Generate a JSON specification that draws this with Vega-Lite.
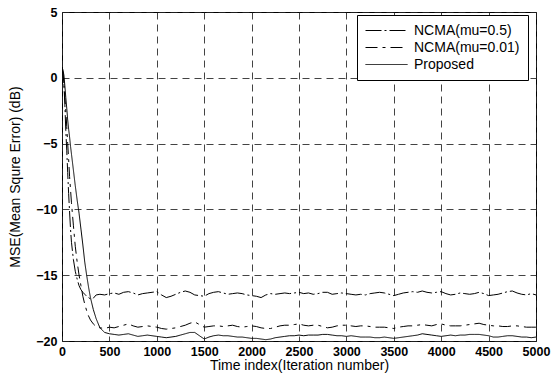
{
  "$schema": "https://vega.github.io/schema/vega-lite/v6.json",
  "width": 474,
  "height": 329,
  "autosize": {"type": "none"},
  "padding": {"left": 62, "top": 12, "right": 23, "bottom": 36},
  "background": "white",
  "config": {
    "view": {"stroke": "black", "strokeWidth": 1},
    "font": "Liberation Sans",
    "axis": {
      "grid": true,
      "gridColor": "#222",
      "gridDash": [7, 5],
      "gridWidth": 1,
      "gridOpacity": 0.85,
      "domain": false,
      "ticks": false,
      "labelFlush": false,
      "labelFont": "Liberation Sans",
      "labelFontSize": 12.5,
      "labelFontWeight": "bold",
      "labelColor": "black",
      "titleFont": "Liberation Sans",
      "titleFontSize": 14,
      "titleFontWeight": "normal",
      "titleColor": "black"
    }
  },
  "data": {
    "values": [
      {"t": 0, "a": 0.8, "b": 0.8, "c": 0.8},
      {"t": 10, "a": 0.4, "b": 0.3, "c": 0.6},
      {"t": 20, "a": -0.5, "b": -0.5, "c": 0.2},
      {"t": 30, "a": -2, "b": -1.5, "c": -0.6},
      {"t": 40, "a": -4, "b": -2.5, "c": -1.5},
      {"t": 50, "a": -5.5, "b": -3.7, "c": -2.3},
      {"t": 60, "a": -7.2, "b": -5, "c": -3.2},
      {"t": 70, "a": -8.8, "b": -6.2, "c": -3.9},
      {"t": 80, "a": -10.2, "b": -7.5, "c": -4.5},
      {"t": 90, "a": -11.5, "b": -8.5, "c": -5.2},
      {"t": 100, "a": -12.5, "b": -9.5, "c": -5.8},
      {"t": 120, "a": -13.8, "b": -11.2, "c": -7},
      {"t": 140, "a": -14.7, "b": -12.8, "c": -8.2},
      {"t": 160, "a": -15.3, "b": -14, "c": -9.3},
      {"t": 180, "a": -15.8, "b": -15, "c": -10.3},
      {"t": 200, "a": -16.1, "b": -15.8, "c": -11.5},
      {"t": 220, "a": -16.3, "b": -16.6, "c": -12.7},
      {"t": 240, "a": -16.45, "b": -17.2, "c": -14},
      {"t": 260, "a": -16.6, "b": -17.7, "c": -15},
      {"t": 280, "a": -16.7, "b": -18.1, "c": -15.9},
      {"t": 300, "a": -16.8, "b": -18.4, "c": -16.7},
      {"t": 330, "a": -16.75, "b": -18.7, "c": -17.6},
      {"t": 360, "a": -16.5, "b": -18.9, "c": -18.3},
      {"t": 400, "a": -16.45, "b": -19.0, "c": -19.0},
      {"t": 450, "a": -16.5, "b": -19.05, "c": -19.35},
      {"t": 500, "a": -16.4, "b": -18.95, "c": -19.45},
      {"t": 550, "a": -16.35, "b": -19.0, "c": -19.5},
      {"t": 600, "a": -16.45, "b": -18.9, "c": -19.55},
      {"t": 650, "a": -16.3, "b": -18.8, "c": -19.5},
      {"t": 700, "a": -16.25, "b": -18.7, "c": -19.45},
      {"t": 750, "a": -16.35, "b": -18.85, "c": -19.55},
      {"t": 800, "a": -16.5, "b": -18.95, "c": -19.65},
      {"t": 850, "a": -16.4, "b": -18.9, "c": -19.6},
      {"t": 900, "a": -16.35, "b": -18.85, "c": -19.55},
      {"t": 950, "a": -16.3, "b": -18.9, "c": -19.6},
      {"t": 1000, "a": -16.25, "b": -18.95, "c": -19.65},
      {"t": 1050, "a": -16.5, "b": -19.05, "c": -19.7},
      {"t": 1100, "a": -16.7, "b": -19.1, "c": -19.75},
      {"t": 1150, "a": -16.6, "b": -19.05, "c": -19.7},
      {"t": 1200, "a": -16.45, "b": -19.0, "c": -19.65},
      {"t": 1250, "a": -16.3, "b": -18.9, "c": -19.55},
      {"t": 1300, "a": -16.2, "b": -18.8, "c": -19.45},
      {"t": 1350, "a": -16.3, "b": -18.65, "c": -19.35},
      {"t": 1400, "a": -16.5, "b": -18.55, "c": -19.35},
      {"t": 1450, "a": -16.55, "b": -18.75, "c": -19.6},
      {"t": 1500, "a": -16.6, "b": -18.95, "c": -19.85},
      {"t": 1550, "a": -16.4, "b": -18.9, "c": -19.7},
      {"t": 1600, "a": -16.3, "b": -18.85, "c": -19.6},
      {"t": 1650, "a": -16.25, "b": -18.85, "c": -19.55},
      {"t": 1700, "a": -16.35, "b": -18.9, "c": -19.6},
      {"t": 1750, "a": -16.45, "b": -18.85, "c": -19.6},
      {"t": 1800, "a": -16.4, "b": -18.8, "c": -19.65},
      {"t": 1850, "a": -16.35, "b": -18.9, "c": -19.7},
      {"t": 1900, "a": -16.4, "b": -18.95, "c": -19.7},
      {"t": 1950, "a": -16.5, "b": -18.9, "c": -19.75},
      {"t": 2000, "a": -16.55, "b": -18.85, "c": -19.8},
      {"t": 2050, "a": -16.6, "b": -18.9, "c": -19.8},
      {"t": 2100, "a": -16.7, "b": -19.0, "c": -19.85},
      {"t": 2150, "a": -16.5, "b": -19.05, "c": -19.9},
      {"t": 2200, "a": -16.4, "b": -19.05, "c": -19.85},
      {"t": 2250, "a": -16.45, "b": -18.95, "c": -19.75},
      {"t": 2300, "a": -16.4, "b": -18.85, "c": -19.7},
      {"t": 2350, "a": -16.35, "b": -18.8, "c": -19.65},
      {"t": 2400, "a": -16.4, "b": -18.8, "c": -19.6},
      {"t": 2450, "a": -16.35, "b": -18.75, "c": -19.6},
      {"t": 2500, "a": -16.3, "b": -18.7, "c": -19.55},
      {"t": 2550, "a": -16.4, "b": -18.8, "c": -19.6},
      {"t": 2600, "a": -16.35, "b": -18.85, "c": -19.55},
      {"t": 2650, "a": -16.45, "b": -18.8, "c": -19.55},
      {"t": 2700, "a": -16.4, "b": -18.8, "c": -19.55},
      {"t": 2750, "a": -16.3, "b": -18.9, "c": -19.5},
      {"t": 2800, "a": -16.3, "b": -19.0, "c": -19.5},
      {"t": 2850, "a": -16.45, "b": -18.95, "c": -19.55},
      {"t": 2900, "a": -16.4, "b": -18.85, "c": -19.6},
      {"t": 2950, "a": -16.35, "b": -18.8, "c": -19.6},
      {"t": 3000, "a": -16.4, "b": -18.8, "c": -19.65},
      {"t": 3050, "a": -16.45, "b": -18.85, "c": -19.6},
      {"t": 3100, "a": -16.5, "b": -18.9, "c": -19.65},
      {"t": 3150, "a": -16.45, "b": -18.85, "c": -19.7},
      {"t": 3200, "a": -16.5, "b": -18.85, "c": -19.7},
      {"t": 3250, "a": -16.4, "b": -18.9, "c": -19.7},
      {"t": 3300, "a": -16.35, "b": -18.95, "c": -19.75},
      {"t": 3350, "a": -16.3, "b": -18.95, "c": -19.75},
      {"t": 3400, "a": -16.35, "b": -18.95, "c": -19.7},
      {"t": 3450, "a": -16.45, "b": -19.0, "c": -19.75},
      {"t": 3500, "a": -16.55, "b": -19.05, "c": -19.8},
      {"t": 3550, "a": -16.45, "b": -18.95, "c": -19.75},
      {"t": 3600, "a": -16.35, "b": -18.9, "c": -19.7},
      {"t": 3650, "a": -16.3, "b": -18.85, "c": -19.65},
      {"t": 3700, "a": -16.25, "b": -18.85, "c": -19.6},
      {"t": 3750, "a": -16.3, "b": -18.8, "c": -19.55},
      {"t": 3800, "a": -16.2, "b": -18.75, "c": -19.45},
      {"t": 3850, "a": -16.3, "b": -18.8, "c": -19.5},
      {"t": 3900, "a": -16.35, "b": -18.85, "c": -19.55},
      {"t": 3950, "a": -16.3, "b": -18.75, "c": -19.6},
      {"t": 4000, "a": -16.25, "b": -18.7, "c": -19.65},
      {"t": 4050, "a": -16.4, "b": -18.8, "c": -19.6},
      {"t": 4100, "a": -16.5, "b": -18.85, "c": -19.55},
      {"t": 4150, "a": -16.45, "b": -18.85, "c": -19.6},
      {"t": 4200, "a": -16.35, "b": -18.85, "c": -19.55},
      {"t": 4250, "a": -16.4, "b": -18.8, "c": -19.55},
      {"t": 4300, "a": -16.45, "b": -18.75, "c": -19.5},
      {"t": 4350, "a": -16.4, "b": -18.7, "c": -19.5},
      {"t": 4400, "a": -16.3, "b": -18.65, "c": -19.5},
      {"t": 4450, "a": -16.4, "b": -18.75, "c": -19.55},
      {"t": 4500, "a": -16.55, "b": -18.8, "c": -19.6},
      {"t": 4550, "a": -16.5, "b": -18.85, "c": -19.7},
      {"t": 4600, "a": -16.45, "b": -18.85, "c": -19.7},
      {"t": 4650, "a": -16.35, "b": -18.9, "c": -19.65},
      {"t": 4700, "a": -16.25, "b": -18.9, "c": -19.6},
      {"t": 4750, "a": -16.2, "b": -18.85, "c": -19.6},
      {"t": 4800, "a": -16.35, "b": -18.85, "c": -19.65},
      {"t": 4850, "a": -16.45, "b": -18.9, "c": -19.7},
      {"t": 4900, "a": -16.5, "b": -18.95, "c": -19.7},
      {"t": 4950, "a": -16.4, "b": -18.95, "c": -19.75},
      {"t": 5000, "a": -16.5, "b": -18.95, "c": -19.7}
    ]
  },
  "transform": [{"fold": ["a", "b", "c"], "as": ["series", "mse"]}],
  "mark": {"type": "line", "color": "black", "strokeWidth": 1, "clip": true},
  "encoding": {
    "x": {
      "field": "t",
      "type": "quantitative",
      "scale": {"domain": [0, 5000], "nice": false},
      "axis": {"values": [0, 500, 1000, 1500, 2000, 2500, 3000, 3500, 4000, 4500, 5000], "format": "d", "title": "Time index(Iteration number)", "labelPadding": 4, "titlePadding": 1}
    },
    "y": {
      "field": "mse",
      "type": "quantitative",
      "scale": {"domain": [-20, 5], "nice": false, "zero": false},
      "axis": {"values": [-20, -15, -10, -5, 0, 5], "format": "d", "title": "MSE(Mean Squre Error) (dB)", "labelPadding": 5, "titlePadding": 13}
    },
    "strokeDash": {
      "field": "series",
      "type": "nominal",
      "scale": {"domain": ["a", "b", "c"], "range": [[16, 3, 2, 3], [12, 5, 3, 5], [1, 0]]},
      "legend": {
        "title": null,
        "orient": "none",
        "legendX": 295,
        "legendY": 3,
        "direction": "vertical",
        "fillColor": "white",
        "strokeColor": "black",
        "padding": 8,
        "symbolType": "M-1,0H5",
        "symbolSize": 196,
        "symbolStrokeWidth": 1,
        "symbolStrokeColor": "black",
        "labelFont": "Liberation Sans",
        "labelFontSize": 14,
        "labelColor": "black",
        "labelOffset": 34,
        "rowPadding": 2,
        "labelExpr": "datum.label == 'a' ? 'NCMA(mu=0.5)' : datum.label == 'b' ? 'NCMA(mu=0.01)' : 'Proposed'"
      }
    }
  }
}
